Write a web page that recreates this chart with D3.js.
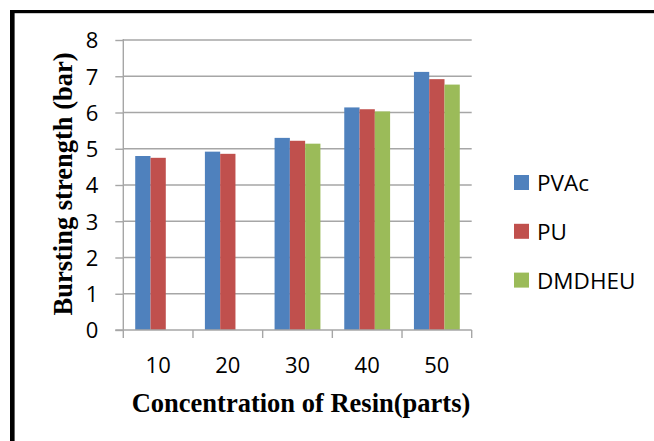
<!DOCTYPE html>
<html>
<head>
<meta charset="utf-8">
<script src="https://cdn.jsdelivr.net/npm/d3@7"></script>
<style>
  html, body { margin: 0; padding: 0; background: #fff; }
  svg { display: block; }
</style>
</head>
<body>
<svg id="chart" width="654" height="441"></svg>
<script>
const categories = ["10", "20", "30", "40", "50"];
const seriesNames = ["PVAc", "PU", "DMDHEU"];
const pvac = [4.80, 4.92, 5.30, 6.14, 7.12];
const pu = [4.75, 4.86, 5.22, 6.09, 6.92];
const dmdheu = [null, null, 5.14, 6.03, 6.77];
const yTicks = [0, 1, 2, 3, 4, 5, 6, 7, 8];
const colors = ["#4F81BD", "#C0504D", "#9BBB59"];

const seriesValues = [pvac, pu, dmdheu];
const svg = d3.select("#chart");

// frame (cut at right and bottom as in reference)
svg.append("rect").attr("x", 10).attr("y", 10).attr("width", 4.6).attr("height", 431).attr("fill", "#000");
svg.append("rect").attr("x", 10).attr("y", 10).attr("width", 644).attr("height", 3.2).attr("fill", "#000");

const plotLeft = 123.3, plotRight = 471.7, plotTop = 40, plotBottom = 330;

const x0 = d3.scaleBand().domain(categories).range([plotLeft, plotRight]).paddingInner(0).paddingOuter(0);
const x1 = d3.scaleBand().domain(seriesNames).range([0, x0.bandwidth()]).paddingInner(0).paddingOuter(0.78);
const y = d3.scaleLinear().domain([0, 8]).range([plotBottom, plotTop]);

// gridlines
svg.append("g").selectAll("line").data(yTicks.filter(d => d > 0)).join("line")
  .attr("x1", plotLeft).attr("x2", plotRight)
  .attr("y1", d => y(d)).attr("y2", d => y(d))
  .attr("stroke", "#a6a6a6").attr("stroke-width", 1.4);

// bars
const rows = [];
categories.forEach((c, i) => {
  seriesNames.forEach((s, j) => {
    const v = seriesValues[j][i];
    if (v != null) rows.push({ c, s, v, j });
  });
});
svg.append("g").selectAll("rect").data(rows).join("rect")
  .attr("x", d => x0(d.c) + x1(d.s))
  .attr("y", d => y(d.v))
  .attr("width", x1.bandwidth())
  .attr("height", d => y(0) - y(d.v))
  .attr("fill", d => colors[d.j]);

// y axis
const yAxis = d3.axisLeft(y).tickValues(yTicks).tickSize(8).tickPadding(17).tickFormat(d3.format("d"));
const gy = svg.append("g").attr("transform", `translate(${plotLeft},0)`).call(yAxis);
gy.select(".domain").attr("stroke", "#a6a6a6").attr("stroke-width", 1.4).attr("d", `M0,${plotBottom}V${plotTop - 1}`);
gy.selectAll(".tick line").attr("stroke", "#a6a6a6").attr("stroke-width", 1.4);
gy.selectAll(".tick text")
  .attr("font-family", "'Open Sans', sans-serif").attr("font-size", 22).attr("fill", "#000")
  .attr("dy", "0.36em");

// x axis
const gx = svg.append("g").attr("transform", `translate(0,${plotBottom})`);
gx.append("line").attr("x1", plotLeft - 8).attr("x2", plotRight).attr("y1", 0).attr("y2", 0)
  .attr("stroke", "#a6a6a6").attr("stroke-width", 1.4);
const bounds = categories.map(c => x0(c)).concat([x0(categories[categories.length - 1]) + x0.bandwidth()]);
gx.selectAll("line.tk").data(bounds).join("line").attr("class", "tk")
  .attr("x1", d => d).attr("x2", d => d).attr("y1", 0).attr("y2", 8)
  .attr("stroke", "#a6a6a6").attr("stroke-width", 1.4);
gx.selectAll("text").data(categories).join("text")
  .attr("x", d => x0(d) + x0.bandwidth() / 2)
  .attr("y", 43)
  .attr("text-anchor", "middle")
  .attr("font-family", "'Open Sans', sans-serif").attr("font-size", 22).attr("fill", "#000")
  .text(d => d);

// axis titles
svg.append("text")
  .attr("x", 301).attr("y", 412)
  .attr("text-anchor", "middle")
  .attr("font-family", "'Liberation Serif', 'Times New Roman', serif")
  .attr("font-weight", "bold").attr("font-size", 26.5).attr("fill", "#000")
  .text("Concentration of Resin(parts)");
svg.append("text")
  .attr("transform", `translate(71.5,${(plotTop + plotBottom) / 2 - 1}) rotate(-90)`)
  .attr("text-anchor", "middle")
  .attr("font-family", "'Liberation Serif', 'Times New Roman', serif")
  .attr("font-weight", "bold").attr("font-size", 26.5).attr("fill", "#000")
  .text("Bursting strength (bar)");

// legend
const legend = svg.append("g").attr("transform", "translate(514,175)");
const li = legend.selectAll("g").data(seriesNames).join("g")
  .attr("transform", (d, i) => `translate(0,${i * 48.8})`);
li.append("rect").attr("width", 15).attr("height", 15).attr("fill", (d, i) => colors[i]);
li.append("text").attr("x", 23).attr("y", 16)
  .attr("font-family", "'Open Sans', sans-serif").attr("font-size", 22.5).attr("fill", "#000")
  .text(d => d);
</script>
</body>
</html>
